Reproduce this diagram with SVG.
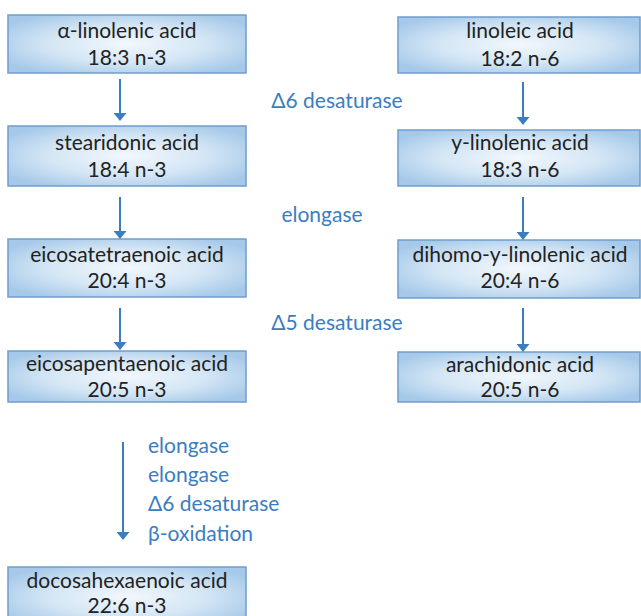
<svg xmlns="http://www.w3.org/2000/svg" width="641" height="616" viewBox="0 0 641 616">
<defs>
<radialGradient id="g" cx="0.5" cy="0.5" r="0.6">
<stop offset="0" stop-color="#f2f7fc"/>
<stop offset="0.55" stop-color="#d4e6f5"/>
<stop offset="1" stop-color="#a6c9e9"/>
</radialGradient>
<marker id="ah" viewBox="0 0 8 13" refX="7" refY="6.5" markerWidth="8" markerHeight="13" markerUnits="userSpaceOnUse" orient="auto">
<path d="M0,0 L8,6.5 L0,13 z" fill="#3b7dc1"/>
</marker>
<style>
.box{fill:url(#g);stroke:#6f9dcb;stroke-width:1.5}
.t{font-family:Lato,"Liberation Sans",sans-serif;font-size:21px;fill:#222;text-anchor:middle}
.lb{font-family:Lato,"Liberation Sans",sans-serif;font-size:21px;fill:#3b7dc1}
.c{stroke:#3b7dc1;stroke-width:2;fill:none;marker-end:url(#ah)}
</style>
</defs>
<rect width="641" height="616" fill="#fff"/>
<g id="n-ala"><rect class="box" x="8" y="15" width="238" height="58"/><text class="t" x="127" y="38">α-linolenic acid</text><text class="t" x="127" y="65">18:3 n-3</text></g>
<g id="n-sda"><rect class="box" x="8" y="126" width="238" height="60"/><text class="t" x="127" y="150">stearidonic acid</text><text class="t" x="127" y="177">18:4 n-3</text></g>
<g id="n-eta"><rect class="box" x="8" y="239" width="238" height="58"/><text class="t" x="127" y="262">eicosatetraenoic acid</text><text class="t" x="127" y="288">20:4 n-3</text></g>
<g id="n-epa"><rect class="box" x="8" y="351" width="238" height="51"/><text class="t" x="127" y="371">eicosapentaenoic acid</text><text class="t" x="127" y="397">20:5 n-3</text></g>
<g id="n-dha"><rect class="box" x="8" y="567" width="238" height="60"/><text class="t" x="127" y="588">docosahexaenoic acid</text><text class="t" x="127" y="613">22:6 n-3</text></g>
<g id="n-la"><rect class="box" x="398" y="17" width="242" height="56"/><text class="t" x="520" y="38">linoleic acid</text><text class="t" x="520" y="66">18:2 n-6</text></g>
<g id="n-gla"><rect class="box" x="398" y="130" width="242" height="56"/><text class="t" x="520" y="150">y-linolenic acid</text><text class="t" x="520" y="177">18:3 n-6</text></g>
<g id="n-dgla"><rect class="box" x="398" y="240" width="242" height="58"/><text class="t" x="520" y="262">dihomo-y-linolenic acid</text><text class="t" x="520" y="288">20:4 n-6</text></g>
<g id="n-aa"><rect class="box" x="398" y="352" width="242" height="50"/><text class="t" x="520" y="372">arachidonic acid</text><text class="t" x="520" y="397">20:5 n-6</text></g>
<g id="connectors">
<line class="c" x1="120" y1="79" x2="120" y2="120"/>
<line class="c" x1="120" y1="197" x2="120" y2="238"/>
<line class="c" x1="120" y1="308" x2="120" y2="349"/>
<line class="c" x1="523" y1="82" x2="523" y2="124"/>
<line class="c" x1="523" y1="197" x2="523" y2="239"/>
<line class="c" x1="523" y1="308" x2="523" y2="351"/>
<line class="c" x1="123" y1="442" x2="123" y2="539"/>
</g>
<g id="labels">
<text class="lb" x="337" y="108" text-anchor="middle">Δ6 desaturase</text>
<text class="lb" x="322" y="222" text-anchor="middle">elongase</text>
<text class="lb" x="337" y="330" text-anchor="middle">Δ5 desaturase</text>
<text class="lb" x="148" y="453">elongase</text>
<text class="lb" x="148" y="482">elongase</text>
<text class="lb" x="148" y="511">Δ6 desaturase</text>
<text class="lb" x="148" y="541">β-oxidation</text>
</g>
</svg>
